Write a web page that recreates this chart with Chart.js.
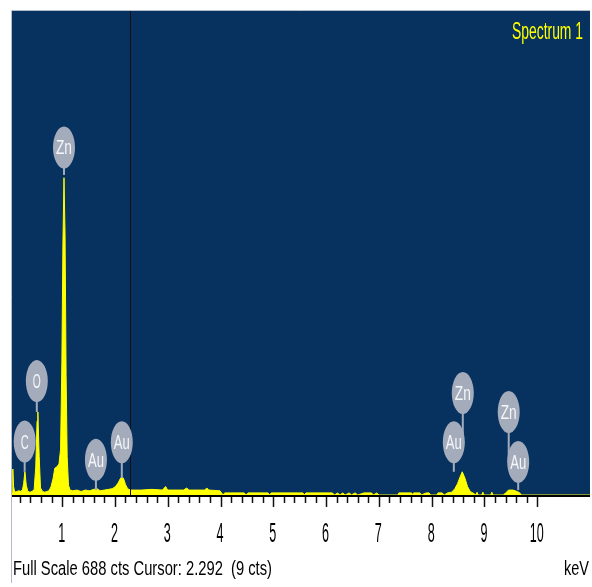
<!DOCTYPE html>
<html>
<head>
<meta charset="utf-8">
<script src="https://cdn.jsdelivr.net/npm/chart.js@4.4.1/dist/chart.umd.min.js"></script>
<style>
html, body { margin: 0; padding: 0; background: #fff; }
#wrap { width: 592px; height: 587px; }
</style>
</head>
<body>
<div id="wrap"><canvas id="spectrum"></canvas></div>
<script>
// EDS spectrum, counts per energy (keV)
const energies = [
  0.05, 0.065, 0.08, 0.10, 0.14, 0.18, 0.22, 0.25, 0.27, 0.295, 0.32, 0.35, 0.39, 0.43, 0.47,
  0.50, 0.525, 0.54, 0.565, 0.59, 0.63, 0.67, 0.71, 0.75, 0.79, 0.83, 0.86, 0.90, 0.94, 0.97,
  0.995, 1.015, 1.035, 1.055, 1.075, 1.095, 1.12, 1.15, 1.20, 1.28, 1.36, 1.44, 1.52, 1.60, 1.66,
  1.72, 1.80, 1.88, 1.95, 2.01, 2.06, 2.10, 2.13, 2.16, 2.20, 2.24, 2.29, 2.50, 2.70, 2.90,
  2.96, 3.00, 3.30, 3.36, 3.40, 3.70, 3.74, 3.78, 3.99, 4.02, 4.05, 4.08, 4.45, 4.48, 4.52,
  4.90, 4.93, 4.96, 5.56, 5.59, 5.62, 6.12, 6.16, 6.22, 6.26, 6.32, 6.36, 6.44, 6.48, 6.55,
  6.60, 6.72, 6.86, 6.90, 6.96, 7.00, 7.36, 7.38, 7.62, 7.64, 7.66, 7.78, 7.80, 7.90, 7.95,
  7.98, 8.10, 8.12, 8.20, 8.24, 8.30, 8.38, 8.44, 8.49, 8.54, 8.58, 8.63, 8.68, 8.73, 8.78,
  8.84, 8.86, 8.88, 8.95, 8.97, 8.99, 9.12, 9.14, 9.16, 9.36, 9.40, 9.46, 9.54, 9.62, 9.67,
  9.70, 11.0
];
const counts = [
  3, 37, 12, 4, 5, 6, 5, 8, 16, 33, 14, 5, 4, 5, 8,
  40, 105, 118, 55, 10, 5, 4, 5, 6, 12, 24, 38, 40, 44, 65,
  190, 360, 451, 370, 170, 55, 14, 7, 6, 7, 5, 7, 6, 8, 9,
  6, 7, 8, 9, 12, 17, 23, 26, 24, 15, 9, 7, 7, 8, 7,
  12, 7, 7, 10, 7, 7, 10, 7, 6, 3, 0, 3, 3, 0, 3,
  3, 0, 3, 3, 0, 3, 3, 0, 3, 0, 3, 0, 3, 0, 3,
  0, 3, 3, 0, 3, 0, 0, 3, 3, 0, 3, 3, 0, 3, 3,
  0, 0, 3, 3, 0, 3, 4, 9, 16, 26, 33, 24, 12, 5, 3,
  0, 4, 0, 0, 4, 0, 0, 4, 0, 0, 3, 7, 7, 5, 3,
  0, 0
];

// element markers: text, energy, bubble centre (cts), stem end (cts)
const markerText = ['C', 'O', 'Zn', 'Au', 'Au', 'Zn', 'Au', 'Zn', 'Au'];
const markerEnergy = [0.29, 0.52, 1.035, 1.64, 2.13, 8.59, 8.42, 9.46, 9.64];
const markerCenter = [76, 162, 494, 50, 75, 145, 75, 118, 47];
const markerStem = [33, 118, 455, 7, 24, 75, 33, 47, 7];

const majorTicks = [1, 2, 3, 4, 5, 6, 7, 8, 9, 10];
const tickLabels = ['1', '2', '3', '4', '5', '6', '7', '8', '9', '10'];
const cursorKeV = 2.292;
const fullScale = 688;
const footerText = 'Full Scale 688 cts Cursor: 2.292  (9 cts)';
const titleText = 'Spectrum 1';

const BLUE = '#07315f';
const YELLOW = '#ffff00';
const BUBBLE = '#a4acbc';
const FONT = '"Liberation Sans Narrow", "Liberation Sans", Arial, sans-serif';

// condensed text: the original uses a tall narrow face
function tallText(ctx, text, x, y, capH, opts) {
    ctx.save();
    ctx.font = '20px ' + FONT;
    const w = ctx.measureText(text).width;
    let sx;
    if (opts.width) sx = opts.width / w;
    else sx = (opts.charW * text.length) / w;
    const sy = capH / (20 * 0.716);
    ctx.translate(x, y);
    ctx.scale(sx, sy);
    ctx.textAlign = opts.align || 'left';
    ctx.textBaseline = 'alphabetic';
    ctx.fillStyle = opts.color || '#000';
    ctx.fillText(text, 0, 0);
    ctx.restore();
}

const backdrop = {
    id: 'backdrop',
    beforeDraw(chart) {
        const { ctx, chartArea: a } = chart;
        ctx.save();
        ctx.fillStyle = '#fff';
        ctx.fillRect(0, 0, chart.width, chart.height);
        ctx.fillStyle = BLUE;
        ctx.fillRect(a.left, a.top, a.right - a.left, a.bottom - a.top);
        ctx.restore();
    }
};

const overlay = {
    id: 'overlay',
    afterDatasetsDraw(chart) {
        const { ctx, chartArea: a } = chart;
        const xs = chart.scales.x, ys = chart.scales.y;
        ctx.save();

        // cursor
        const cx = Math.round(xs.getPixelForValue(cursorKeV)) + 0.5;
        ctx.strokeStyle = '#111';
        ctx.lineWidth = 1;
        ctx.beginPath();
        ctx.moveTo(cx, a.top);
        ctx.lineTo(cx, a.bottom);
        ctx.stroke();

        // marker stems first, bubbles on top
        ctx.strokeStyle = BUBBLE;
        ctx.lineWidth = 2;
        markerText.forEach((t, i) => {
            const x = xs.getPixelForValue(markerEnergy[i]);
            ctx.beginPath();
            ctx.moveTo(x, ys.getPixelForValue(markerCenter[i]));
            ctx.lineTo(x, ys.getPixelForValue(markerStem[i]));
            ctx.stroke();
        });
        markerText.forEach((t, i) => {
            const x = xs.getPixelForValue(markerEnergy[i]);
            const y = ys.getPixelForValue(markerCenter[i]);
            ctx.fillStyle = BUBBLE;
            ctx.beginPath();
            ctx.ellipse(x, y, 11, 21, 0, 0, Math.PI * 2);
            ctx.fill();
            tallText(ctx, t, x, y + 7, 14, { charW: 8, align: 'center', color: '#f4f6f8' });
        });

        tallText(ctx, titleText, a.right - 7, 39, 17, { width: 71, align: 'right', color: YELLOW });
        ctx.restore();
    }
};

const keVAxis = {
    id: 'keVAxis',
    afterDraw(chart) {
        const { ctx, chartArea: a } = chart;
        const xs = chart.scales.x;
        ctx.save();

        // frame edges
        ctx.strokeStyle = '#b4bccb';
        ctx.lineWidth = 1;
        ctx.beginPath();
        ctx.moveTo(a.left - 0.5, 583);
        ctx.lineTo(a.left - 0.5, a.top - 0.5);
        ctx.lineTo(a.right, a.top - 0.5);
        ctx.stroke();

        // axis line
        ctx.fillStyle = '#000';
        ctx.fillRect(a.left, a.bottom, a.right - a.left, 2);

        // minor ticks every 0.2 keV, major every 1 keV
        ctx.strokeStyle = '#111';
        ctx.lineWidth = 1.5;
        for (let k = 1; k <= 50; k++) {
            const x = Math.round(xs.getPixelForValue(k * 0.2)) + 0.5;
            const len = k % 5 === 0 ? 12 : 8;
            ctx.beginPath();
            ctx.moveTo(x, a.bottom + 2);
            ctx.lineTo(x, a.bottom + len);
            ctx.stroke();
        }

        majorTicks.forEach((v, i) => {
            const x = xs.getPixelForValue(v);
            tallText(ctx, tickLabels[i], x - 0.5, 542, 20, { charW: 7, align: 'center' });
        });

        tallText(ctx, footerText, 13, 575, 15, { width: 259 });
        tallText(ctx, 'keV', 589, 575, 15, { width: 25, align: 'right' });
        ctx.restore();
    }
};

const ctxSpectrum = document.getElementById('spectrum').getContext('2d');
new Chart(ctxSpectrum, {
    type: 'line',
    data: {
        datasets: [{
            label: titleText,
            data: energies.map((e, i) => ({ x: e, y: counts[i] })),
            borderColor: YELLOW,
            backgroundColor: YELLOW,
            borderWidth: 1,
            fill: 'origin',
            tension: 0,
            pointRadius: 0
        }]
    },
    options: {
        responsive: true,
        maintainAspectRatio: false,
        animation: false,
        layout: { padding: { left: 12, top: 11, right: 2, bottom: 92 } },
        plugins: {
            legend: { display: false },
            tooltip: { enabled: false }
        },
        scales: {
            x: { type: 'linear', min: 0.05, max: 11.0, display: false },
            y: { min: 0, max: fullScale, display: false }
        }
    },
    plugins: [backdrop, overlay, keVAxis]
});
</script>
</body>
</html>
